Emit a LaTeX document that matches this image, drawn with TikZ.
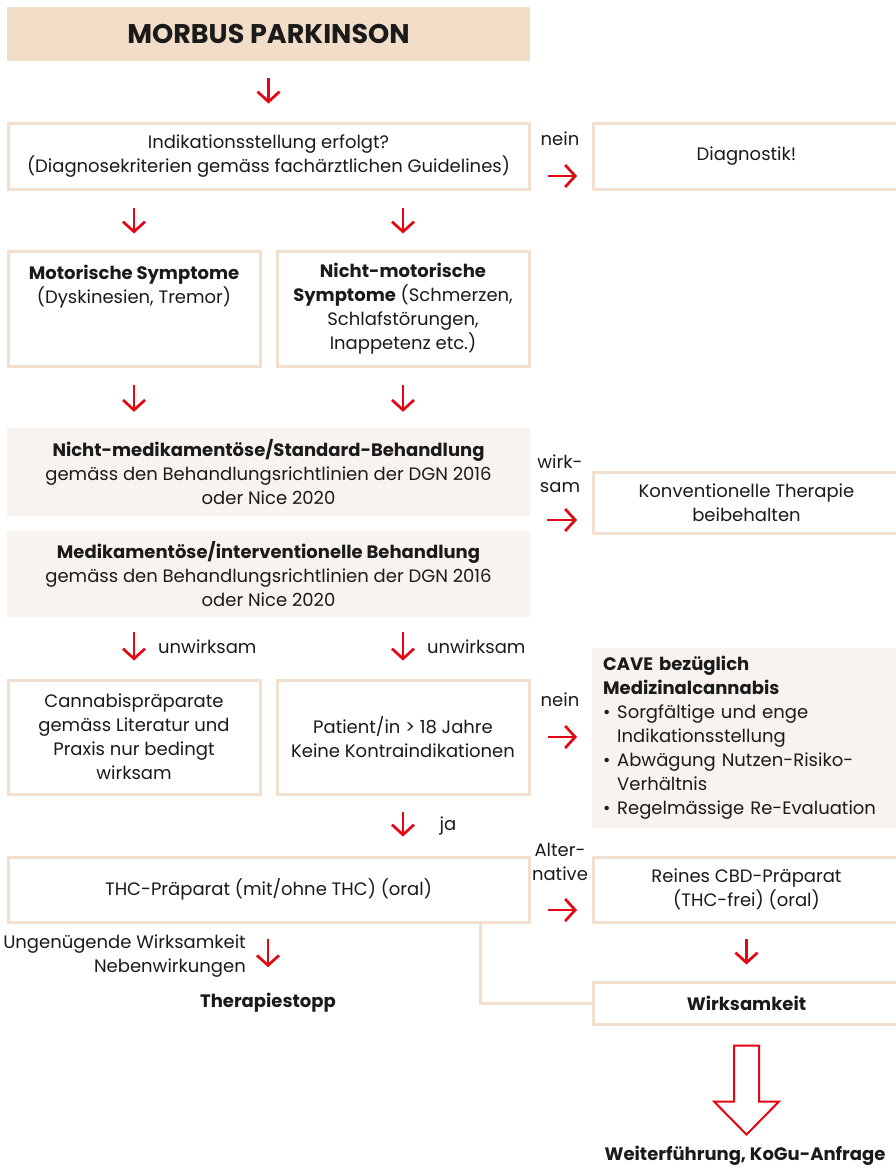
\documentclass[tikz,border=0pt]{standalone}
\usepackage{fontspec}
\setmainfont{Poppins}
\usetikzlibrary{arrows.meta,calc}
\definecolor{hdrc}{HTML}{F2DDC9}
\definecolor{brd}{HTML}{F2E0CE}
\definecolor{lite}{HTML}{F8F3EE}
\definecolor{rd}{HTML}{E30613}
\definecolor{txt}{HTML}{1A1A1A}
\begin{document}
\begin{tikzpicture}[x=1pt,y=-1pt,
 every node/.style={font=\fontsize{18}{24}\selectfont, text=txt},
 bx/.style={draw=brd, line width=3pt, fill=white, inner sep=0pt, align=center},
 fbx/.style={fill=lite, inner sep=0pt, align=center},
 arr/.style={draw=rd, line width=2.7pt, -{Straight Barb[length=10pt,width=22pt]}},
 lbl/.style={inner sep=0pt, align=center},
 bld/.style={font=\bfseries\fontsize{18}{24}\selectfont},
]
\useasboundingbox (0,0) rectangle (896,1167);
% header
\node[fill=hdrc, minimum width=523pt, minimum height=54pt, inner sep=0pt,
      font=\bfseries\fontsize{27}{30}\selectfont] (hdr) at (268.5,34) {MORBUS PARKINSON};
% boxes
\node[bx, minimum width=521pt, minimum height=66pt] (ind) at (268.5,156)
  {Indikationsstellung erfolgt?\\(Diagnosekriterien gemäss fachärztlichen Guidelines)};
\node[bx, minimum width=306pt, minimum height=66pt, anchor=west] (diag) at (592,156) {Diagnostik!};
\node[bx, minimum width=252pt, minimum height=115pt] (mot) at (134,308.5)
  {\textbf{Motorische Symptome}\\(Dyskinesien, Tremor)\\\mbox{}\\\mbox{}};
\node[bx, minimum width=252pt, minimum height=115pt] (nmot) at (403,308.5)
  {\textbf{Nicht-motorische}\\\textbf{Symptome} (Schmerzen,\\Schlafstörungen,\\Inappetenz etc.)};
\node[fbx, minimum width=523pt, minimum height=88pt] (nmed) at (268.5,472)
  {\textbf{Nicht-medikamentöse/Standard-Behandlung}\\gemäss den Behandlungsrichtlinien der DGN 2016\\oder Nice 2020};
\node[fbx, minimum width=523pt, minimum height=86pt] (med) at (268.5,574)
  {\textbf{Medikamentöse/interventionelle Behandlung}\\gemäss den Behandlungsrichtlinien der DGN 2016\\oder Nice 2020};
\node[bx, minimum width=306pt, minimum height=61pt, anchor=west] (konv) at (592,502.5)
  {Konventionelle Therapie\\beibehalten};
\node[bx, minimum width=252pt, minimum height=114pt] (can) at (134,737)
  {Cannabispräparate\\gemäss Literatur und\\Praxis nur bedingt\\wirksam};
\node[bx, minimum width=252pt, minimum height=114pt] (pat) at (403,737)
  {Patient/in > 18 Jahre\\Keine Kontraindikationen};
\node[fbx, anchor=north west, align=left, text width=292pt, inner xsep=11pt, minimum height=180pt] (cave) at (592,648)
  {\textbf{CAVE bezüglich}\\\textbf{Medizinalcannabis}\\
   \makebox[14pt][l]{•}Sorgfältige und enge\\
   \makebox[14pt][l]{}Indikationsstellung\\
   \makebox[14pt][l]{•}Abwägung Nutzen-Risiko-\\
   \makebox[14pt][l]{}Verhältnis\\
   \makebox[14pt][l]{•}Regelmässige Re-Evaluation};
\node[bx, minimum width=521pt, minimum height=65pt] (thc) at (268.5,889.5)
  {THC-Präparat (mit/ohne THC) (oral)};
\node[bx, minimum width=306pt, minimum height=65pt, anchor=west] (cbd) at (592,889.5)
  {Reines CBD-Präparat\\(THC-frei) (oral)};
\node[bx, bld, minimum width=306pt, minimum height=42pt, anchor=west] (wirk) at (592,1003) {Wirksamkeit};
% labels
\node[lbl] (nein1) at (560,139) {nein};
\node[lbl] (wirksam) at (560,474) {wirk-\\sam};
\node[lbl, anchor=west] (unw1) at (158,647) {unwirksam};
\node[lbl, anchor=west] (unw2) at (427,647) {unwirksam};
\node[lbl] (nein2) at (560,700) {nein};
\node[lbl] (ja) at (448,826) {ja};
\node[lbl] (alt) at (560,862) {Alter-\\native};
\node[lbl, align=right, anchor=east] (ung) at (246,956) {Ungenügende Wirksamkeit\\Nebenwirkungen};
\node[lbl, bld] (stopp) at (268,1003) {Therapiestopp};
\node[lbl, bld] (weiter) at (745,1156) {Weiterführung, KoGu-Anfrage};
\coordinate (stopA) at ($(thc.south -| stopp)+(0,15)$);
\coordinate (stopB) at ($(stopp.north)+(0,-26)$);
% arrows
\draw[arr] ($(hdr.south)+(0,17)$) -- ($(ind.north)+(0,-18)$);
\draw[arr] ($(ind.east)+(17,20)$) -- ($(diag.west)+(-15,20)$);
\draw[arr] ($(mot.north |- ind.south)+(0,17)$) -- ($(mot.north)+(0,-16)$);
\draw[arr] ($(nmot.north |- ind.south)+(0,17)$) -- ($(nmot.north)+(0,-16)$);
\draw[arr] ($(mot.south)+(0,17)$) -- ($(mot.south |- nmed.north)+(0,-16)$);
\draw[arr] ($(nmot.south)+(0,17)$) -- ($(nmot.south |- nmed.north)+(0,-16)$);
\draw[arr] ($(nmed.east)+(17,48)$) -- ($(konv.west)+(-15,17.5)$);
\draw[arr] ($(can.north |- med.south)+(0,15)$) -- ($(can.north)+(0,-18)$);
\draw[arr] ($(pat.north |- med.south)+(0,15)$) -- ($(pat.north)+(0,-18)$);
\draw[arr] ($(pat.east)+(17,0)$) -- ($(cave.west |- pat.east)+(-15,0)$);
\draw[arr] ($(pat.south)+(0,16)$) -- ($(pat.south |- thc.north)+(0,-19)$);
\draw[arr] ($(thc.east)+(17,20.5)$) -- ($(cbd.west)+(-15,20.5)$);
\draw[arr] ($(cbd.south)+(0,15)$) -- ($(wirk.north)+(0,-16)$);
\draw[arr] (stopA) -- (stopB);
% connector
\draw[brd, line width=3pt] ($(thc.south west)+(474,0)$) |- (wirk.west);
% big hollow arrow
\draw[rd, line width=2pt, line join=miter, fill=white]
  ($(wirk.south)+(-12.5,20)$) -- ($(wirk.south)+(12.5,20)$) -- ($(wirk.south)+(12.5,76)$)
  -- ($(wirk.south)+(32.5,76)$) -- ($(wirk.south)+(0,109)$) -- ($(wirk.south)+(-32.5,76)$)
  -- ($(wirk.south)+(-12.5,76)$) -- cycle;
\end{tikzpicture}
\end{document}
